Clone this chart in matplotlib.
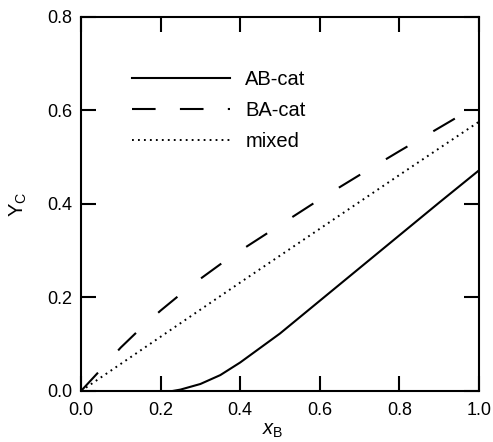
#!/usr/bin/env python3

"""Plot Y_C against x_B for the AB-cat, BA-cat and mixed cases."""

import matplotlib
matplotlib.use('Agg')
import matplotlib as mpl
import matplotlib.pyplot as plt

xb_ab = [0.23, 0.25, 0.30, 0.35, 0.40, 0.45, 0.50, 0.60, 0.70, 0.80, 0.90, 1.00]
yc_ab = [0.0, 0.003, 0.015, 0.034, 0.061, 0.092, 0.123, 0.193, 0.263, 0.333, 0.403, 0.472]

xb_ba = [0.0, 0.05, 0.10, 0.15, 0.20, 0.25, 0.30, 0.35, 0.40, 0.50, 0.60, 0.70, 0.80, 0.90, 1.00]
yc_ba = [0.0, 0.046, 0.093, 0.134, 0.172, 0.207, 0.240, 0.271, 0.300, 0.355, 0.410, 0.462, 0.513, 0.563, 0.613]

xb_mix = [0.0, 0.2, 0.4, 0.6, 0.8, 1.0]
yc_mix = [0.0, 0.116, 0.232, 0.347, 0.462, 0.576]

labels = ['AB-cat', 'BA-cat', 'mixed']
xticks = [0.0, 0.2, 0.4, 0.6, 0.8, 1.0]
yticks = [0.0, 0.2, 0.4, 0.6, 0.8]

# Set default figure parameters
mpl.rcParams['font.family'] = ['Liberation Sans', 'DejaVu Sans']
mpl.rcParams['font.size'] = 13
mpl.rcParams['mathtext.fontset'] = 'custom'
mpl.rcParams['mathtext.rm'] = 'Liberation Sans'
mpl.rcParams['mathtext.it'] = 'Liberation Sans:italic'
mpl.rcParams['lines.scale_dashes'] = False
mpl.rcParams['axes.linewidth'] = 1.5

fig = plt.figure(figsize=(4.93, 4.42), dpi=100)
ax = fig.add_axes([0.1643, 0.1154, 0.8073, 0.8462])

ax.plot(xb_ab, yc_ab, color='black', linewidth=1.5, label=labels[0])
ax.plot(xb_ba, yc_ba, color='black', linewidth=1.5, dashes=(18, 21.6), label=labels[1])
ax.plot(xb_mix, yc_mix, color='black', linewidth=1.4, dashes=(1.3, 3.0), label=labels[2])

ax.set_xlim(0, 1)
ax.set_ylim(0, 0.8)
ax.set_xticks(xticks)
ax.set_yticks(yticks)
ax.tick_params(direction='in', length=10.8, width=1.5, top=True, right=True)
ax.tick_params(axis='x', pad=8)
ax.tick_params(axis='y', pad=6)

ax.set_xlabel(r'$x_\mathrm{B}$', fontsize=14.5)
ax.set_ylabel(r'$\mathrm{Y}_\mathrm{C}$', fontsize=14.5)
ax.xaxis.set_label_coords(0.483, -0.08)
ax.yaxis.set_label_coords(-0.13, 0.5)

leg = ax.legend(loc='upper left', bbox_to_anchor=(0.127, 0.859), frameon=False,
                fontsize=14.5, handlelength=4.9, handletextpad=0.745, labelspacing=0.6,
                borderpad=0, borderaxespad=0)
# legend sample of the dashed line uses a shorter pattern, as in the original
leg.get_lines()[1].set_dashes((17, 17.5))

plt.savefig('out.png', dpi=100)
